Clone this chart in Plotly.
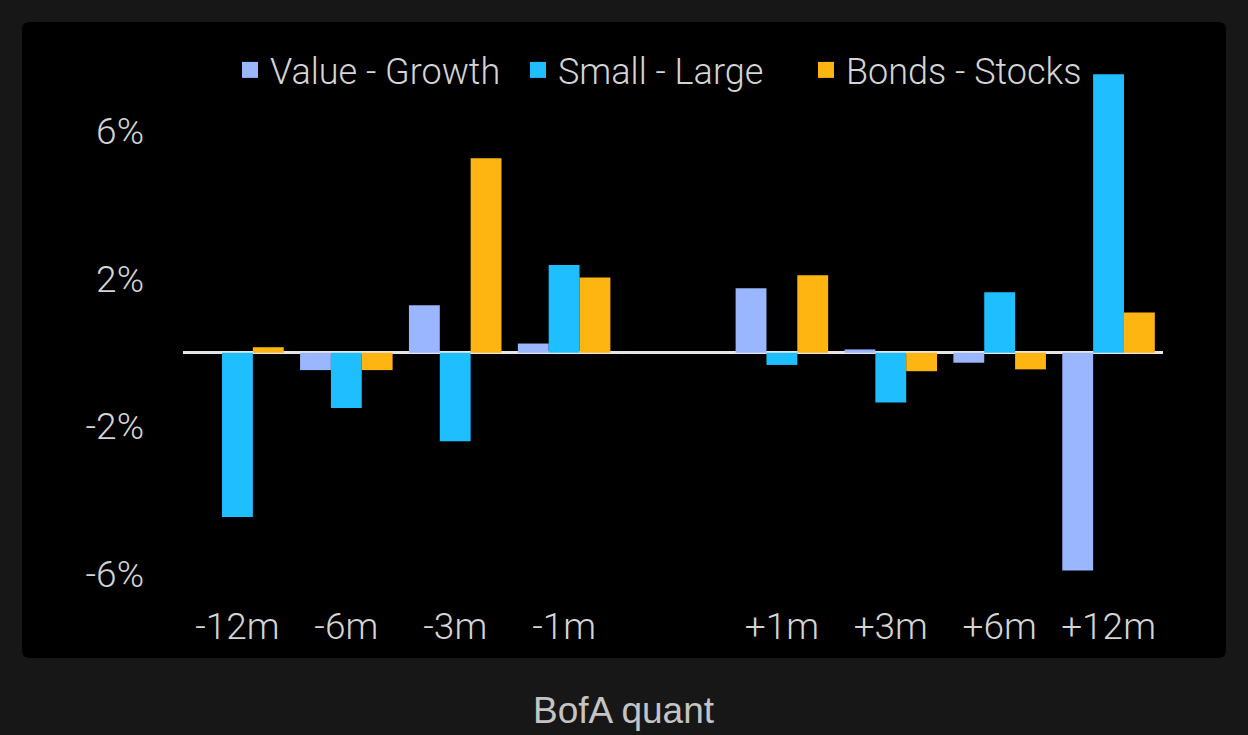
import plotly.graph_objects as go

categories = ["-12m", "-6m", "-3m", "-1m", " ", "+1m", "+3m", "+6m", "+12m"]
value_growth = [None, -0.47, 1.29, 0.25, None, 1.75, 0.09, -0.27, -5.9]
small_large = [-4.45, -1.5, -2.4, 2.38, None, -0.33, -1.35, 1.64, 7.55]
bonds_stocks = [0.15, -0.47, 5.27, 2.04, None, 2.1, -0.5, -0.45, 1.09]
series_names = ["Value - Growth", "Small - Large", "Bonds - Stocks"]
y_ticks = [-6, -2, 2, 6]
y_tick_text = ["-6%", "-2%", "2%", "6%"]
caption = "BofA quant"

W, H = 1248, 735
L, R, T, B = 183, 85, 65, 124
pw, ph = W - L - R, H - T - B

def px_x(p):
    return (p - L) / pw

def px_y(p):
    return (H - B - p) / ph

cond = "Roboto, 'Liberation Sans Narrow', sans-serif"
txt_col = "#d4d4d4"
colors = ["#9ab6ff", "#1fbfff", "#ffb511"]

fig = go.Figure()
for name, vals, col in zip(series_names, [value_growth, small_large, bonds_stocks], colors):
    fig.add_bar(x=categories, y=vals, name=name, marker_color=col, marker_line_width=0,
                showlegend=False, legendgroup=name)
for name, col in zip(series_names, colors):
    fig.add_scatter(x=[None], y=[None], mode="markers", name=name, legendgroup=name,
                    marker=dict(symbol="square", size=19, color=col, line_width=0))

# rounded black panel
x0, x1, y0, y1, r = 22, 1226, 22, 658, 7
path = (f"M {px_x(x0+r)},{px_y(y0)} L {px_x(x1-r)},{px_y(y0)} Q {px_x(x1)},{px_y(y0)} {px_x(x1)},{px_y(y0+r)} "
        f"L {px_x(x1)},{px_y(y1-r)} Q {px_x(x1)},{px_y(y1)} {px_x(x1-r)},{px_y(y1)} "
        f"L {px_x(x0+r)},{px_y(y1)} Q {px_x(x0)},{px_y(y1)} {px_x(x0)},{px_y(y1-r)} "
        f"L {px_x(x0)},{px_y(y0+r)} Q {px_x(x0)},{px_y(y0)} {px_x(x0+r)},{px_y(y0)} Z")
fig.add_shape(type="path", path=path, xref="paper", yref="paper", fillcolor="#000000",
              line_width=0, layer="below")

fig.add_annotation(text=caption, xref="paper", yref="paper", x=px_x(624), y=px_y(710),
                   xanchor="center", yanchor="middle", showarrow=False,
                   font=dict(family="Liberation Sans, Arial, sans-serif", size=37, color="#c4c4c4"))

fig.update_layout(
    width=W, height=H,
    margin=dict(l=L, r=R, t=T, b=B, pad=0),
    paper_bgcolor="#171717",
    plot_bgcolor="rgba(0,0,0,0)",
    barmode="group", bargap=0.15, bargroupgap=0,
    showlegend=True,
    legend=dict(orientation="h", x=px_x(230), y=px_y(70), xanchor="left", yanchor="middle",
                font=dict(family=cond, size=36, color=txt_col, weight=300), bgcolor="rgba(0,0,0,0)",
                entrywidth=243, entrywidthmode="pixels",
                itemclick=False, itemdoubleclick=False),
    xaxis=dict(showgrid=False, zeroline=False, showline=False, ticks="",
               ticklabelstandoff=-10,
               tickfont=dict(family=cond, size=37, color=txt_col, weight=300)),
    yaxis=dict(range=[-7.0, 7.8], showgrid=False, zeroline=True, zerolinecolor="#e6e6e6",
               zerolinewidth=3, showline=False, ticks="", tickmode="array",
               tickvals=y_ticks, ticktext=y_tick_text,
               ticklabelstandoff=38,
               tickfont=dict(family=cond, size=37, color=txt_col, weight=300)),
    font=dict(family=cond, color=txt_col),
)

fig.write_html("out.html", config={"displayModeBar": False},
               post_script="document.body.style.margin='0';document.body.style.background='#171717';")
